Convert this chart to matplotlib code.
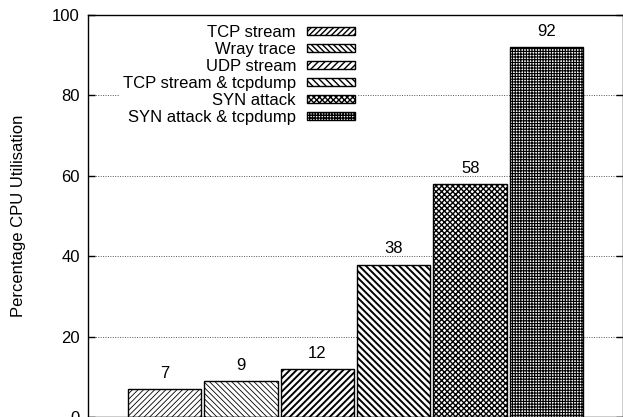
import matplotlib
matplotlib.use("Agg")
import matplotlib.pyplot as plt

plt.rcParams['font.family'] = ['Liberation Sans', 'DejaVu Sans']

# Data
labels = ["TCP stream", "Wray trace", "UDP stream",
          "TCP stream & tcpdump", "SYN attack", "SYN attack & tcpdump"]
cpu = [7, 9, 12, 38, 58, 92]
hatches = ["/" * 6, "\\" * 6, "/" * 5, "\\" * 5, "x" * 6, "+" * 6]
hatch_lw = [0.6, 0.6, 1.4, 1.4, 1.0, 0.8]

fig = plt.figure(figsize=(6.23, 4.17), dpi=100)
ax = fig.add_axes([88 / 623, -0.001, 535 / 623, 0.965])

bars = []
for i, (lab, v, h, lw) in enumerate(zip(labels, cpu, hatches, hatch_lw)):
    with plt.rc_context({'hatch.linewidth': lw, 'hatch.color': '#222222'}):
        b = ax.bar(i, v, width=0.96, color='white', edgecolor='black',
                   linewidth=1.0, hatch=h, label=lab, zorder=2)
    for p in b:
        if hasattr(p, 'set_hatch_linewidth'):
            p.set_hatch_linewidth(lw)
    bars.append(b)
    ax.annotate(str(v), (i, v), xytext=(0, 11.5), textcoords='offset points',
                ha='center', va='center', fontsize=12)

ax.set_xlim(-1, 6)
ax.set_ylim(0, 100)
ax.set_xticks([])
ax.set_yticks([0, 20, 40, 60, 80, 100])
ax.tick_params(axis='y', direction='in', length=5, width=1, pad=6,
               right=True, labelsize=12)
ax.yaxis.grid(True, linestyle=(0, (1, 1.5)), color='#555555',
              linewidth=0.7, zorder=0)
ax.set_axisbelow(True)
for s in ax.spines.values():
    s.set_linewidth(1.0)

ax.set_ylabel("Percentage CPU Utilisation", fontsize=12, labelpad=19)

leg = ax.legend(loc='upper right', bbox_to_anchor=(366 / 623, 1 - 14 / 417),
                bbox_transform=fig.transFigure, markerfirst=False,
                fontsize=12, handlelength=2.9, handleheight=0.42,
                handletextpad=0.65, labelspacing=0.12, borderpad=0.15,
                frameon=True, fancybox=False, edgecolor='none',
                facecolor='white', framealpha=1.0)
leg.set_zorder(3)

fig.savefig("out.png", dpi=100)
